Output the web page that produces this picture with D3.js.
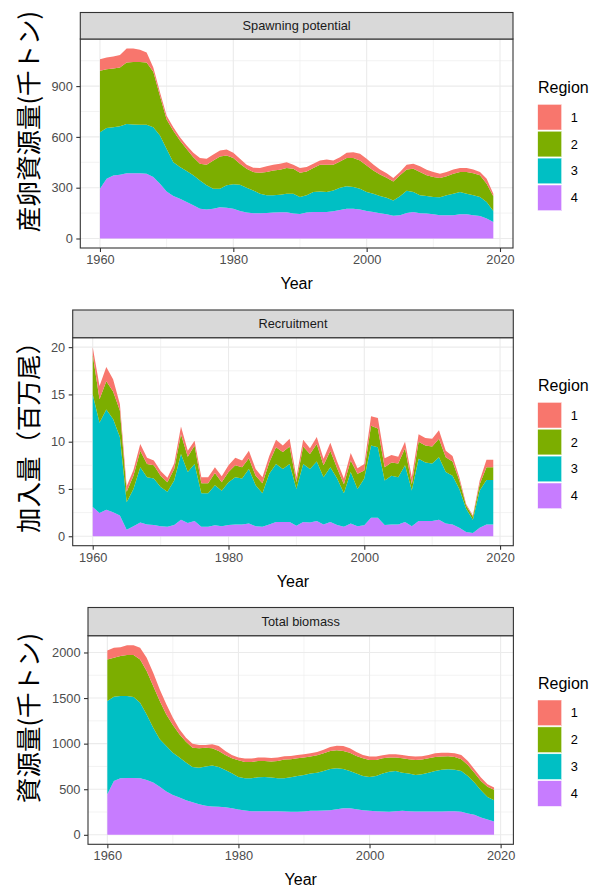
<!DOCTYPE html>
<html><head><meta charset="utf-8">
<script src="https://cdn.jsdelivr.net/npm/d3@7"></script>
<style>body{margin:0;background:#fff}</style>
</head><body>
<svg id="c" width="599" height="887" xmlns="http://www.w3.org/2000/svg"></svg>
<script>
const years = d3.range(1960, 2020);
const regions = ["1", "2", "3", "4"];
const regionColors = ["#F8766D", "#7CAE00", "#00BFC4", "#C77CFF"];
const xTicks = [1960, 1980, 2000, 2020];
const xMinor = [1970, 1990, 2010];

// Spawning potential (thousand tonnes)
const spawnR1 = [69,69,71,74,83,79,71,59,25,22, 22,20,20,20,26,35,36,35,36,35, 31,30,23,26,28,35,33,35,35,23, 28,26,25,26,32,26,25,31,34,39, 40,35,30,27,20,19,27,29,35,33, 29,25,25,26,24,24,22,19,29,16];
const spawnR2 = [363,347,347,347,363,370,372,368,328,233, 174,186,156,131,107,98,121,167,190,176, 155,123,112,108,123,137,147,147,151,147, 143,141,141,157,160,151,155,167,172,167, 156,137,127,118,112,124,126,137,137,122, 118,114,112,117,117,127,131,128,108,86];
const spawnR3 = [333,300,285,287,290,287,285,289,294,284, 251,200,187,182,177,167,143,118,110,132, 145,155,147,135,116,104,102,104,110,118, 100,102,118,121,118,123,131,132,128,123, 112,108,102,98,90,112,131,118,106,104, 102,106,118,128,132,122,118,112,98,65];
const spawnR4 = [294,353,372,376,386,386,386,382,363,324, 278,251,235,216,196,176,171,176,184,182, 175,163,153,149,149,151,153,155,155,147, 145,153,157,157,157,161,169,176,176,171, 163,157,149,143,135,137,151,157,149,147, 143,137,137,137,143,143,137,133,118,98];
const spawnTicks = [0, 300, 600, 900];
const spawnMinor = [150, 450, 750, 1050];

// Recruitment (million fish)
const recR1 = [0.8,1.4,1.5,1.3,0.7,0.6,0.6,0.7,0.65,0.5, 0.5,0.5,0.6,0.8,0.65,0.5,0.65,0.65,0.6,0.65, 0.7,0.8,0.7,0.8,0.7,0.65,0.7,0.8,0.7,0.8, 0.55,0.7,0.6,0.75,0.7,0.85,0.7,0.6,0.8,0.6, 0.7,1.0,1.1,0.95,0.8,0.7,0.7,0.75,0.8,0.8, 0.8,0.9,0.7,0.6,0.35,0.15,0.15,0.4,0.8,0.8];
const recR2 = [4.2,2.5,3.0,2.9,2.8,1.1,1.4,1.75,1.4,1.4, 1.2,1.0,1.2,2.1,1.6,1.95,1.05,1.05,1.3,0.9, 1.1,1.25,1.2,1.15,1.0,1.05,1.2,1.75,1.8,1.85, 0.7,1.85,1.6,1.85,1.25,1.75,1.1,0.95,1.2,1.6, 0.85,2.1,2.0,1.4,1.4,1.45,1.8,0.65,1.8,1.8, 1.8,1.95,1.55,1.5,0.9,0.35,0.3,0.65,1.35,1.35];
const recR3 = [11.9,9.55,10.6,9.85,8.3,2.9,3.95,5.85,5.0,4.9, 4.15,3.7,4.7,6.95,5.4,6.05,3.55,3.55,4.25,3.75, 4.5,5.0,4.85,5.75,4.35,3.55,5.35,6.15,5.6,6.15, 3.9,6.15,5.65,6.3,5.0,5.8,4.9,3.55,5.45,3.95, 4.95,7.65,7.45,4.7,5.15,5.0,6.0,3.8,6.6,6.2, 6.1,6.6,5.45,5.15,4.1,2.45,1.4,3.95,4.7,4.7];
const recR4 = [3.1,2.45,2.8,2.55,2.2,0.7,1.05,1.45,1.25,1.2, 1.05,1.0,1.2,1.75,1.4,1.6,1.0,1.0,1.15,1.05, 1.2,1.25,1.25,1.35,1.05,1.0,1.25,1.5,1.5,1.5, 1.1,1.5,1.45,1.6,1.25,1.5,1.2,1.0,1.35,1.05, 1.15,1.95,1.95,1.2,1.25,1.25,1.5,1.05,1.6,1.6, 1.6,1.75,1.35,1.25,0.9,0.45,0.35,0.9,1.25,1.25];
const recTicks = [0, 5, 10, 15, 20];
const recMinor = [2.5, 7.5, 12.5, 17.5];

// Total biomass (thousand tonnes)
const bioR1 = [99,109,98,109,109,128,146,146,128,110, 81,55,44,44,36,29,44,54,44,37, 29,37,37,37,37,40,37,36,37,37, 36,36,37,40,43,51,54,48,44,37, 37,37,33,36,36,37,37,37,36,37, 40,43,40,40,48,44,37,37,29,25];
const bioR2 = [456,427,438,449,460,474,475,456,420,347, 303,255,230,211,212,208,190,175,164,164, 183,179,179,179,175,175,190,205,197,193, 190,186,190,193,197,197,197,200,193,193, 186,175,167,154,146,157,156,164,161,157, 153,143,142,139,127,120,109,102,110,113];
const bioR3 = [1022,924,902,898,887,829,719,602,521,500, 463,438,412,387,401,430,449,438,409,383, 358,354,361,372,376,369,361,365,379,394, 402,409,419,435,453,449,431,409,391,376, 372,387,417,441,442,419,413,402,409,427, 446,460,460,456,449,412,354,299,248,234];
const bioR4 = [445,591,620,624,624,620,602,573,526,474, 438,409,380,358,336,318,310,307,303,292, 277,266,259,259,259,259,259,255,252,252, 255,263,263,266,270,281,292,292,281,270, 263,259,255,252,259,263,259,255,255,255, 255,255,259,259,252,234,219,190,168,146];
const bioTicks = [0, 500, 1000, 1500, 2000];
const bioMinor = [250, 750, 1250, 1750];

const svg = d3.select("#c");
svg.append("rect").attr("width", 599).attr("height", 887).attr("fill", "#fff");

const panels = [
  { strip: "Spawning potential", ylab: "産卵資源量(千トン)", series: [spawnR1, spawnR2, spawnR3, spawnR4], ticks: spawnTicks, minor: spawnMinor,
    left: 80.3, right: 513, stripTop: 12.5, top: 39, bottom: 248, ylabY: 121.5, legTitleY: 93, keyTop: 104.3, xTitleY: 289.3 },
  { strip: "Recruitment", ylab: "加入量（百万尾）", series: [recR1, recR2, recR3, recR4], ticks: recTicks, minor: recMinor,
    left: 72.7, right: 513.3, stripTop: 310, top: 337.7, bottom: 545.7, ylabY: 431, legTitleY: 390.7, keyTop: 402.3, xTitleY: 586.7 },
  { strip: "Total biomass", ylab: "資源量(千トン)", series: [bioR1, bioR2, bioR3, bioR4], ticks: bioTicks, minor: bioMinor,
    left: 88.0, right: 513.4, stripTop: 607.5, top: 635.7, bottom: 844.3, ylabY: 718, legTitleY: 689.3, keyTop: 700, xTitleY: 884.5 }
];

const FONT = "Liberation Sans, Arial, Helvetica, sans-serif";

panels.forEach(p => {
  const data = years.map((yr, i) => {
    const o = { year: yr };
    regions.forEach((r, k) => { o[r] = p.series[k][i]; });
    return o;
  });
  const layers = d3.stack().keys(["4", "3", "2", "1"])(data);
  const maxV = d3.max(layers[layers.length - 1], d => d[1]);
  const xPad = (years[years.length - 1] - years[0]) * 0.05;
  const x = d3.scaleLinear().domain([years[0] - xPad, years[years.length - 1] + xPad]).range([p.left, p.right]);
  const y = d3.scaleLinear().domain([-0.05 * maxV, 1.05 * maxV]).range([p.bottom, p.top]);
  const g = svg.append("g");

  // grid
  g.selectAll(".ymin").data(p.minor.filter(v => y(v) > p.top)).enter().append("line")
    .attr("x1", p.left).attr("x2", p.right).attr("y1", d => y(d)).attr("y2", d => y(d))
    .attr("stroke", "#ebebeb").attr("stroke-width", 0.6);
  g.selectAll(".xmin").data(xMinor).enter().append("line")
    .attr("y1", p.top).attr("y2", p.bottom).attr("x1", d => x(d)).attr("x2", d => x(d))
    .attr("stroke", "#ebebeb").attr("stroke-width", 0.6);
  g.selectAll(".ymaj").data(p.ticks).enter().append("line")
    .attr("x1", p.left).attr("x2", p.right).attr("y1", d => y(d)).attr("y2", d => y(d))
    .attr("stroke", "#ebebeb").attr("stroke-width", 1.1);
  g.selectAll(".xmaj").data(xTicks).enter().append("line")
    .attr("y1", p.top).attr("y2", p.bottom).attr("x1", d => x(d)).attr("x2", d => x(d))
    .attr("stroke", "#ebebeb").attr("stroke-width", 1.1);

  // areas
  const area = d3.area().x(d => x(d.data.year)).y0(d => y(d[0])).y1(d => y(d[1]));
  const colorOf = k => regionColors[regions.indexOf(k)];
  g.selectAll(".layer").data(layers).enter().append("path")
    .attr("d", area).attr("fill", d => colorOf(d.key));

  // panel border
  g.append("rect").attr("x", p.left).attr("y", p.top).attr("width", p.right - p.left).attr("height", p.bottom - p.top)
    .attr("fill", "none").attr("stroke", "#333333").attr("stroke-width", 1.1);

  // strip
  g.append("rect").attr("x", p.left).attr("y", p.stripTop).attr("width", p.right - p.left).attr("height", p.top - p.stripTop)
    .attr("fill", "#d9d9d9").attr("stroke", "#333333").attr("stroke-width", 1.1);
  g.append("text").attr("x", (p.left + p.right) / 2).attr("y", (p.stripTop + p.top) / 2)
    .attr("dy", "0.35em").attr("text-anchor", "middle").attr("font-family", FONT).attr("font-size", 12.8)
    .attr("fill", "#1a1a1a").text(p.strip);

  // axes
  const yAxis = g.append("g").attr("transform", `translate(${p.left},0)`)
    .call(d3.axisLeft(y).tickValues(p.ticks).tickSize(4).tickPadding(3.5).tickFormat(d3.format("d")));
  const xAxis = g.append("g").attr("transform", `translate(0,${p.bottom})`)
    .call(d3.axisBottom(x).tickValues(xTicks).tickSize(4).tickPadding(3).tickFormat(d3.format("d")));
  [yAxis, xAxis].forEach(a => {
    a.select(".domain").remove();
    a.selectAll("line").attr("stroke", "#333333").attr("stroke-width", 1.1);
    a.selectAll("text").attr("font-family", FONT).attr("font-size", 12.8).attr("fill", "#4d4d4d");
  });

  // axis titles
  g.append("text").attr("x", (p.left + p.right) / 2).attr("y", p.xTitleY).attr("text-anchor", "middle")
    .attr("font-family", FONT).attr("font-size", 16).attr("fill", "#000").text("Year");
  g.append("text").attr("transform", `translate(38,${p.ylabY}) rotate(-90)`).attr("text-anchor", "middle")
    .attr("font-family", "Noto Sans CJK JP").attr("font-size", 25.5).attr("fill", "#000").text(p.ylab);

  // legend
  const lg = g.append("g");
  lg.append("text").attr("x", 538).attr("y", p.legTitleY).attr("font-family", FONT).attr("font-size", 16)
    .attr("fill", "#000").text("Region");
  const keyH = 26.9;
  regions.forEach((r, k) => {
    const ky = p.keyTop + k * keyH;
    lg.append("rect").attr("x", 537.7).attr("y", ky).attr("width", 24).attr("height", keyH - 1.2)
      .attr("fill", regionColors[k]).attr("stroke", "#fff").attr("stroke-width", 0.5);
    lg.append("text").attr("x", 570.7).attr("y", ky + (keyH - 1.2) / 2).attr("dy", "0.35em")
      .attr("font-family", FONT).attr("font-size", 12.8).attr("fill", "#000").text(r);
  });
});
</script>
</body></html>
